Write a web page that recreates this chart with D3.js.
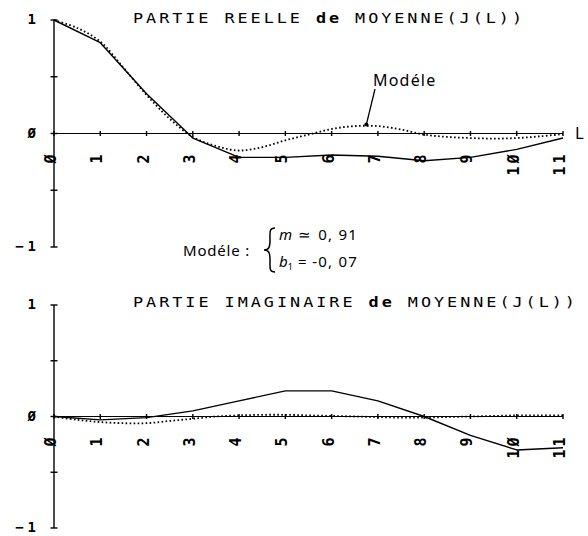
<!DOCTYPE html>
<html>
<head>
<meta charset="utf-8">
<script src="https://cdn.jsdelivr.net/npm/d3@7"></script>
<style>
  body { margin: 0; background: #fff; }
  svg { display: block; }
</style>
</head>
<body>
<svg id="chart" width="588" height="536"></svg>
<script>
// Lag values L and mean correlation J(L): measured (solid) and model (dotted)
const lags = [0, 1, 2, 3, 4, 5, 6, 7, 8, 9, 10, 11];
const lagsModel = [0, 0.5, 1, 1.5, 2, 2.5, 3, 3.5, 4, 4.5, 5, 5.5, 6, 6.5, 7, 7.5, 8, 8.5, 9, 9.5, 10, 10.5, 11];

const reMeasured = [1.00, 0.80, 0.35, -0.04, -0.21, -0.21, -0.19, -0.20, -0.24, -0.21, -0.14, -0.04];
const reModel = [1.00, 0.93, 0.81, 0.58, 0.34, 0.13, -0.03, -0.11, -0.15, -0.12, -0.06, -0.01, 0.04, 0.065, 0.065, 0.035, -0.01, -0.03, -0.04, -0.045, -0.04, -0.025, -0.005];

const imMeasured = [0.00, -0.03, -0.01, 0.05, 0.14, 0.23, 0.23, 0.14, 0.00, -0.17, -0.30, -0.28];
const imModel = [0.00, -0.03, -0.05, -0.06, -0.06, -0.04, -0.02, 0.00, 0.01, 0.015, 0.015, 0.01, 0.005, 0.00, -0.005, -0.01, -0.01, -0.005, 0.00, 0.005, 0.01, 0.01, 0.01];

const yTicks = [-1, -0.5, 0, 0.5, 1];
const yLabelled = [-1, 0, 1];

const titleRe = ["PARTIE REELLE ", "de", " MOYENNE(J(L))"];
const titleIm = ["PARTIE IMAGINAIRE ", "de", " MOYENNE(J(L))"];
const modelName = "Modéle";
const modelParams = [
  { name: "m", sub: "", op: "≃", value: "0, 91" },
  { name: "b", sub: "1", op: "=", value: "-0, 07" }
];

// plotter-style digits: zero drawn slashed
const fmt = v => String(v).replace("-", "−").replace(/0/g, "Ø");

const svg = d3.select("#chart");
const mono = "'DejaVu Sans Mono', 'Liberation Mono', monospace";
const hand = "'Noto Sans', 'Open Sans', sans-serif";

const x = d3.scaleLinear().domain([0, 11]).range([54, 563]);

function panel(opts) {
  const y = d3.scaleLinear().domain([-1, 1]).range(opts.yRange);
  const g = svg.append("g");

  // title, in wide plotter lettering
  const stretch = 1.2;
  const t = g.append("text")
    .attr("transform", `translate(133,${opts.titleY}) scale(${stretch},1)`)
    .attr("textLength", opts.titleLen / stretch).attr("lengthAdjust", "spacing")
    .style("font-family", mono).style("font-size", "14px");
  opts.title.forEach((s, i) => {
    t.append("tspan").text(s)
      .style("font-weight", i === 1 ? "bold" : "normal");
  });

  // vertical axis with crossing ticks
  g.append("line")
    .attr("x1", x(0)).attr("x2", x(0))
    .attr("y1", y(1)).attr("y2", y(-1))
    .attr("stroke", "#000").attr("stroke-width", 1.4);
  g.selectAll(".yt").data(yTicks).join("line")
    .attr("x1", x(0) - 3.5).attr("x2", x(0) + 3.5)
    .attr("y1", d => y(d)).attr("y2", d => y(d))
    .attr("stroke", "#000").attr("stroke-width", 1.4);
  g.selectAll(".yl").data(yLabelled).join("text")
    .attr("x", 40).attr("y", d => y(d) - 1)
    .attr("text-anchor", "end").attr("dominant-baseline", "central")
    .style("font-family", mono).style("font-weight", "bold")
    .style("font-size", "14px").style("letter-spacing", "4px")
    .text(fmt);

  // horizontal axis at zero
  g.append("line")
    .attr("x1", x(0)).attr("x2", x(11))
    .attr("y1", y(0)).attr("y2", y(0))
    .attr("stroke", "#000").attr("stroke-width", 1.2);
  g.selectAll(".xt").data(lags).join("line")
    .attr("x1", d => x(d)).attr("x2", d => x(d))
    .attr("y1", y(0) - 2.5).attr("y2", y(0) + 2.5)
    .attr("stroke", "#000").attr("stroke-width", 1.4);
  g.selectAll(".xl").data(lags).join("text")
    .attr("transform", d => `translate(${x(d) - 3},${y(0) + 18}) rotate(-90)`)
    .attr("text-anchor", "end").attr("dominant-baseline", "central")
    .style("font-family", mono).style("font-weight", "bold")
    .style("font-size", "15px").style("letter-spacing", "3px")
    .text(fmt);
  if (opts.axisName) {
    g.append("text")
      .attr("x", 575).attr("y", y(0))
      .attr("dominant-baseline", "central")
      .style("font-family", mono).style("font-size", "15px")
      .text(opts.axisName);
  }

  // series
  const measuredLine = d3.line().x((d, i) => x(lags[i])).y(d => y(d));
  const modelLine = d3.line().x((d, i) => x(lagsModel[i])).y(d => y(d))
    .curve(d3.curveCatmullRom.alpha(0.5));

  g.append("path").datum(opts.model)
    .attr("d", modelLine).attr("fill", "none")
    .attr("stroke", "#000").attr("stroke-width", 1.8)
    .attr("stroke-dasharray", "1.6 2.4");
  g.append("path").datum(opts.measured)
    .attr("d", measuredLine).attr("fill", "none")
    .attr("stroke", "#000").attr("stroke-width", 1.4)
    .attr("stroke-linejoin", "round");

  return { g, y };
}

const realPanel = panel({
  yRange: [247, 20], title: titleRe, titleY: 23, titleLen: 389,
  measured: reMeasured, model: reModel, axisName: "L"
});
panel({
  yRange: [528, 305], title: titleIm, titleY: 307, titleLen: 442,
  measured: imMeasured, model: imModel
});

// pointer to the model curve
const tip = { L: 6.75, v: 0.07 };
realPanel.g.append("line")
  .attr("x1", 375).attr("y1", 89)
  .attr("x2", x(tip.L)).attr("y2", realPanel.y(tip.v) - 1)
  .attr("stroke", "#000").attr("stroke-width", 1.3);
realPanel.g.append("circle")
  .attr("cx", x(tip.L)).attr("cy", realPanel.y(tip.v) - 1).attr("r", 2)
  .attr("fill", "#000");
realPanel.g.append("text")
  .attr("x", 373).attr("y", 86)
  .style("font-family", hand).style("font-size", "16px")
  .style("letter-spacing", "1.2px")
  .text(modelName);

// model parameters
const p = svg.append("g");
p.append("text")
  .attr("x", 183).attr("y", 256)
  .style("font-family", hand).style("font-size", "15px")
  .style("letter-spacing", "0.8px")
  .text(modelName + " :");
p.append("path")
  .attr("d", "M275,228 C269,228 270,232 270,240 C270,247 269,250 264,250 C269,250 270,253 270,260 C270,268 269,272 275,272")
  .attr("fill", "none").attr("stroke", "#000").attr("stroke-width", 1.5);
modelParams.forEach((r, i) => {
  const by = 240 + i * 27;
  const t = p.append("text")
    .attr("x", 279).attr("y", by)
    .style("font-family", hand).style("font-size", "15px");
  t.append("tspan").text(r.name).style("font-style", "italic");
  if (r.sub) t.append("tspan").text(r.sub).attr("dy", 3).style("font-size", "9px");
  p.append("text").attr("x", 298).attr("y", by)
    .style("font-family", hand).style("font-size", "15px").text(r.op);
  p.append("text").attr("x", 358).attr("y", by)
    .attr("text-anchor", "end")
    .style("font-family", hand).style("font-size", "15px")
    .style("letter-spacing", "1.2px")
    .text(r.value);
});
</script>
</body>
</html>
